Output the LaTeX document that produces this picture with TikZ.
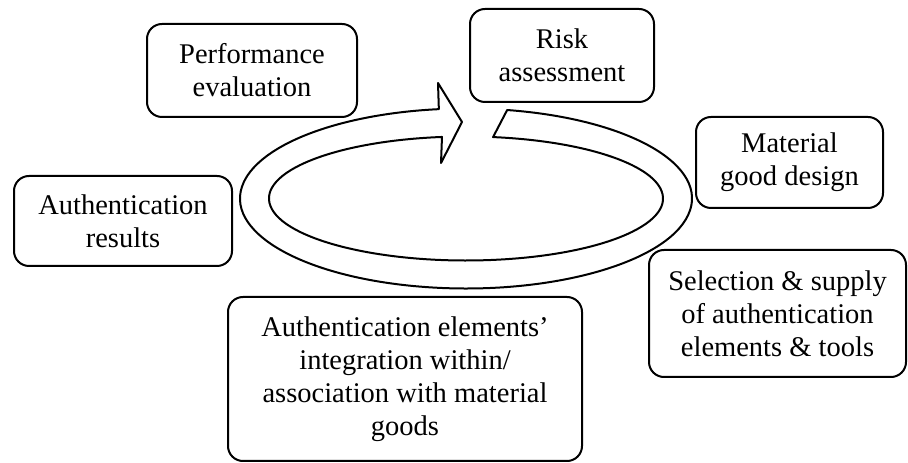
\documentclass[tikz,border=0pt]{standalone}
\usepackage{fontspec}
\setmainfont{Liberation Serif}
\usetikzlibrary{positioning}

\begin{document}
\begin{tikzpicture}[x=1pt,y=1pt,line width=2pt,line join=round,
  font=\fontsize{28.5}{33}\selectfont,
  stage/.style={draw, rounded corners=15pt, align=center, inner sep=0pt}]
\useasboundingbox (0,0) rectangle (908,463);

% the cycle arrow
\coordinate (c) at (466,264.5);
\draw ([shift={(79.5:226 and 90)}]c) arc[start angle=79.5, end angle=-263.1, x radius=226, y radius=90]
  -- (438,380) -- (462,341) -- (441,300)
  -- ([shift={(97:197 and 62)}]c) arc[start angle=97, end angle=442.1, x radius=197, y radius=62]
  -- cycle;

% process stages
\node[stage, minimum width=210, minimum height=93] (perf) at (252,392.5) {Performance\\evaluation};
\node[stage, minimum width=184, minimum height=93] (risk) at (562,407.5) {Risk\\assessment};
\node[stage, minimum width=187, minimum height=91] (design) at (789.5,300.5) {Material\\good design};
\node[stage, minimum width=218, minimum height=90] (results) at (123,242) {Authentication\\results};
\node[stage, minimum width=257, minimum height=127] (supply) at (777.5,149.5) {Selection \& supply\\of authentication\\elements \& tools};
\node[stage, minimum width=354, minimum height=164] (integ) at (405,84) {Authentication elements’\\integration within/\\association with material\\goods};
\end{tikzpicture}
\end{document}
